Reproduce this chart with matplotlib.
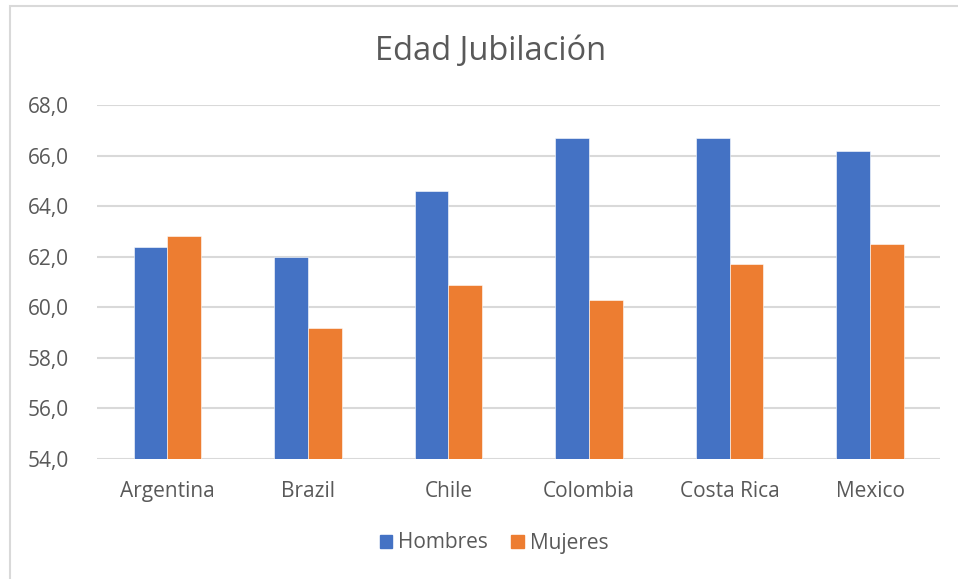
import matplotlib.pyplot as plt
import matplotlib.patches as mpatches
import numpy as np

plt.rcParams['font.family'] = ['Open Sans', 'DejaVu Sans']

paises = ['Argentina', 'Brazil', 'Chile', 'Colombia', 'Costa Rica', 'Mexico']
hombres = [62.4, 62.0, 64.6, 66.7, 66.7, 66.2]
mujeres = [62.8, 59.2, 60.9, 60.3, 61.7, 62.5]
y_ticks = [54, 56, 58, 60, 62, 64, 66, 68]

azul = '#4472C4'
naranja = '#ED7D31'
gris_txt = '#595959'
gris_lin = '#D9D9D9'

fig = plt.figure(figsize=(9.58, 5.79), dpi=100)
ax = fig.add_axes([97 / 958, 1 - 459 / 579, (940.5 - 97) / 958, (459 - 105) / 579])

# borde del grafico (solo se ve arriba y a la izquierda)
fig.patches.append(mpatches.Rectangle((10 / 958, -0.1), 1.2, (573 / 579) + 0.1,
                                      transform=fig.transFigure, fill=False,
                                      edgecolor=gris_lin, linewidth=1.5))

x = np.arange(len(paises))
w = 0.24
ax.bar(x - w / 2, np.array(hombres) - 54, w, bottom=54, color=azul,
       edgecolor='white', linewidth=0.4, label='Hombres', zorder=3)
ax.bar(x + w / 2, np.array(mujeres) - 54, w, bottom=54, color=naranja,
       edgecolor='white', linewidth=0.4, label='Mujeres', zorder=3)

ax.set_xlim(-0.5, len(paises) - 0.5)
ax.set_ylim(54, 68)
ax.set_yticks(y_ticks)
ax.set_yticklabels([f'{v:.1f}'.replace('.', ',') for v in y_ticks])
ax.set_xticks(x)
ax.set_xticklabels(paises)

for s in ax.spines.values():
    s.set_visible(False)
ax.grid(axis='y', color=gris_lin, linewidth=1.5, zorder=0)
ax.tick_params(axis='both', length=0, labelsize=15, labelcolor=gris_txt)
ax.tick_params(axis='x', pad=16)
ax.tick_params(axis='y', pad=20)

fig.text(0.512, 1 - 52 / 579, 'Edad Jubilación', ha='center', va='center',
         fontsize=23.5, color=gris_txt)

h1 = mpatches.Patch(color=azul, label='Hombres')
h2 = mpatches.Patch(color=naranja, label='Mujeres')
fig.legend(handles=[h1, h2], loc='center', bbox_to_anchor=(494 / 958, 1 - 543 / 579),
           ncol=2, frameon=False, fontsize=15, labelcolor=gris_txt,
           handlelength=0.6, handleheight=0.6, handletextpad=0.3, columnspacing=1.1)

fig.savefig('out.png', dpi=100)
